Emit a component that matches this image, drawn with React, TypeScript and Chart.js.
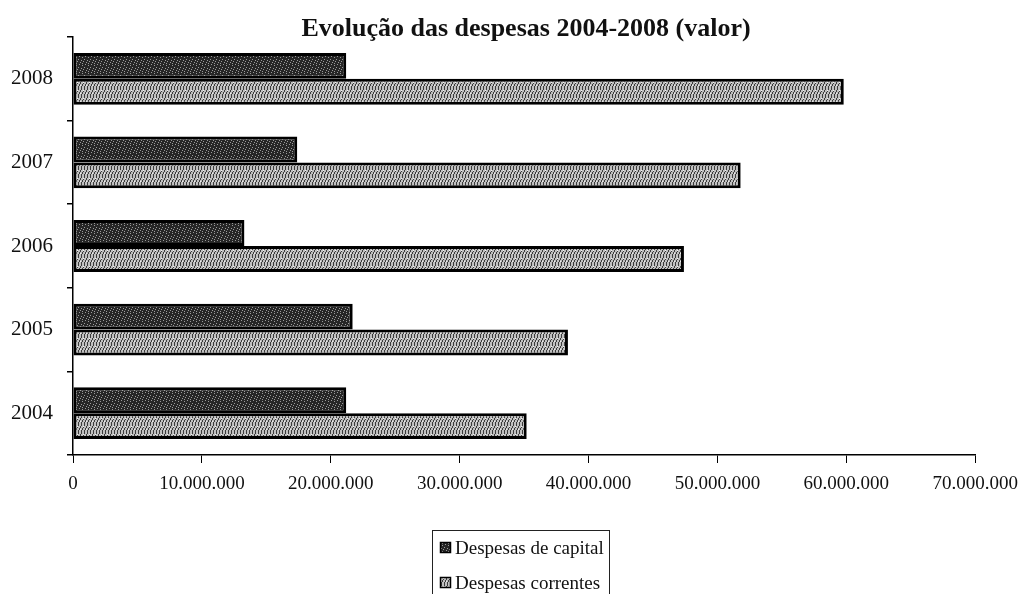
import React, { useEffect, useRef } from "react";
import { Chart, registerables } from "chart.js";

Chart.register(...registerables);

// ---- data ----
const years = ["2004", "2005", "2006", "2007", "2008"];
const despesasCapital = [21200000, 21700000, 13300000, 17400000, 21200000];
const despesasCorrentes = [35200000, 38400000, 47400000, 51800000, 59800000];
const seriesNames = ["Despesas de capital", "Despesas correntes"];
const titleText = "Evolução das despesas 2004-2008 (valor)";
const xMin = 0;
const xMax = 70000000;
const xStep = 10000000;

const SERIF = "'Liberation Serif', 'Times New Roman', serif";
const TEXT = "#111";

function formatThousands(v: number): string {
  return String(Math.round(v)).replace(/\B(?=(\d{3})+(?!\d))/g, ".");
}

function makePattern(kind: "dark" | "light"): CanvasPattern | string {
  const c = document.createElement("canvas");
  c.width = 6;
  c.height = 8;
  const g = c.getContext("2d");
  if (!g) return kind === "dark" ? "#333" : "#999";
  if (kind === "dark") {
    g.fillStyle = "#262626";
    g.fillRect(0, 0, 6, 8);
    g.fillStyle = "#9a9a9a";
    const pts = [
      [1, 0], [4, 1], [0, 3], [3, 4], [5, 5], [2, 6], [4, 7],
    ];
    pts.forEach(([x, y]) => g.fillRect(x, y, 1, 1));
  } else {
    g.fillStyle = "#c0c0c0";
    g.fillRect(0, 0, 6, 8);
    g.fillStyle = "#3c3c3c";
    for (let y = 0; y < 8; y++) {
      const x = Math.floor((7 - y) / 2);
      g.fillRect(x, y, 1, 1);
      g.fillRect((x + 3) % 6, y, 1, 1);
    }
    g.fillStyle = "#f0f0f0";
    g.fillRect(5, 2, 1, 1);
    g.fillRect(2, 5, 1, 1);
  }
  const p = g.createPattern(c, "repeat");
  return p || (kind === "dark" ? "#333" : "#999");
}

export default function App() {
  const ref = useRef<HTMLCanvasElement | null>(null);

  useEffect(() => {
    if (!ref.current) return;
    const patDark = makePattern("dark");
    const patLight = makePattern("light");
    const fills = [patDark, patLight];

    const overlay = {
      id: "overlay",
      afterDraw(chart: any) {
        const ctx = chart.ctx as CanvasRenderingContext2D;
        ctx.save();
        // title
        ctx.fillStyle = TEXT;
        ctx.font = `bold 26px ${SERIF}`;
        ctx.textAlign = "center";
        ctx.textBaseline = "alphabetic";
        ctx.fillText(titleText, 526, 36);

        // legend box
        ctx.strokeStyle = "#222";
        ctx.lineWidth = 1;
        ctx.strokeRect(432.5, 530.5, 177, 80);
        ctx.font = `19px ${SERIF}`;
        ctx.textAlign = "left";
        const baselines = [554, 589];
        seriesNames.forEach((name, i) => {
          const by = baselines[i];
          ctx.fillStyle = fills[i] as any;
          ctx.fillRect(440, by - 12, 11, 11);
          ctx.strokeStyle = "#000";
          ctx.lineWidth = 1.5;
          ctx.strokeRect(440.5, by - 11.5, 10, 10);
          ctx.fillStyle = TEXT;
          ctx.fillText(name, 455, by);
        });
        ctx.restore();
      },
    };

    const labels = [...years].reverse();
    const chart = new Chart(ref.current, {
      type: "bar",
      data: {
        labels,
        datasets: [
          {
            label: seriesNames[0],
            data: [...despesasCapital].reverse(),
            backgroundColor: patDark as any,
            borderColor: "#000",
            borderWidth: 3,
            borderSkipped: false,
            categoryPercentage: 0.62,
            barPercentage: 1,
          },
          {
            label: seriesNames[1],
            data: [...despesasCorrentes].reverse(),
            backgroundColor: patLight as any,
            borderColor: "#000",
            borderWidth: 3,
            borderSkipped: false,
            categoryPercentage: 0.62,
            barPercentage: 1,
          },
        ],
      },
      options: {
        indexAxis: "y",
        responsive: false,
        animation: false,
        layout: { padding: { top: 37, right: 52, left: 0, bottom: 0 } },
        plugins: {
          legend: { display: false },
          title: { display: false },
          tooltip: { enabled: false },
        },
        scales: {
          x: {
            min: xMin,
            max: xMax,
            ticks: {
              stepSize: xStep,
              callback: (v: any) => formatThousands(Number(v)),
              font: { family: SERIF, size: 19 },
              color: TEXT,
              padding: 10,
              maxRotation: 0,
            },
            grid: {
              drawOnChartArea: false,
              tickLength: 8,
              color: "#000",
              lineWidth: 1,
            },
            border: { color: "#000", width: 1.5 },
            afterFit: (s: any) => {
              s.height = 139;
            },
          },
          y: {
            ticks: {
              font: { family: SERIF, size: 21 },
              color: TEXT,
              padding: 14,
            },
            grid: {
              drawOnChartArea: false,
              tickLength: 6,
              color: "#000",
              lineWidth: 1.5,
              offset: true,
            },
            border: { color: "#000", width: 1.5 },
            afterFit: (s: any) => {
              s.width = 73;
            },
          },
        },
      },
      plugins: [overlay],
    });
    return () => chart.destroy();
  }, []);

  return (
    <div style={{ position: "fixed", left: 0, top: 0, width: 1028, height: 594, background: "#fff" }}>
      <canvas ref={ref} width={1028} height={594} style={{ display: "block" }} />
    </div>
  );
}
